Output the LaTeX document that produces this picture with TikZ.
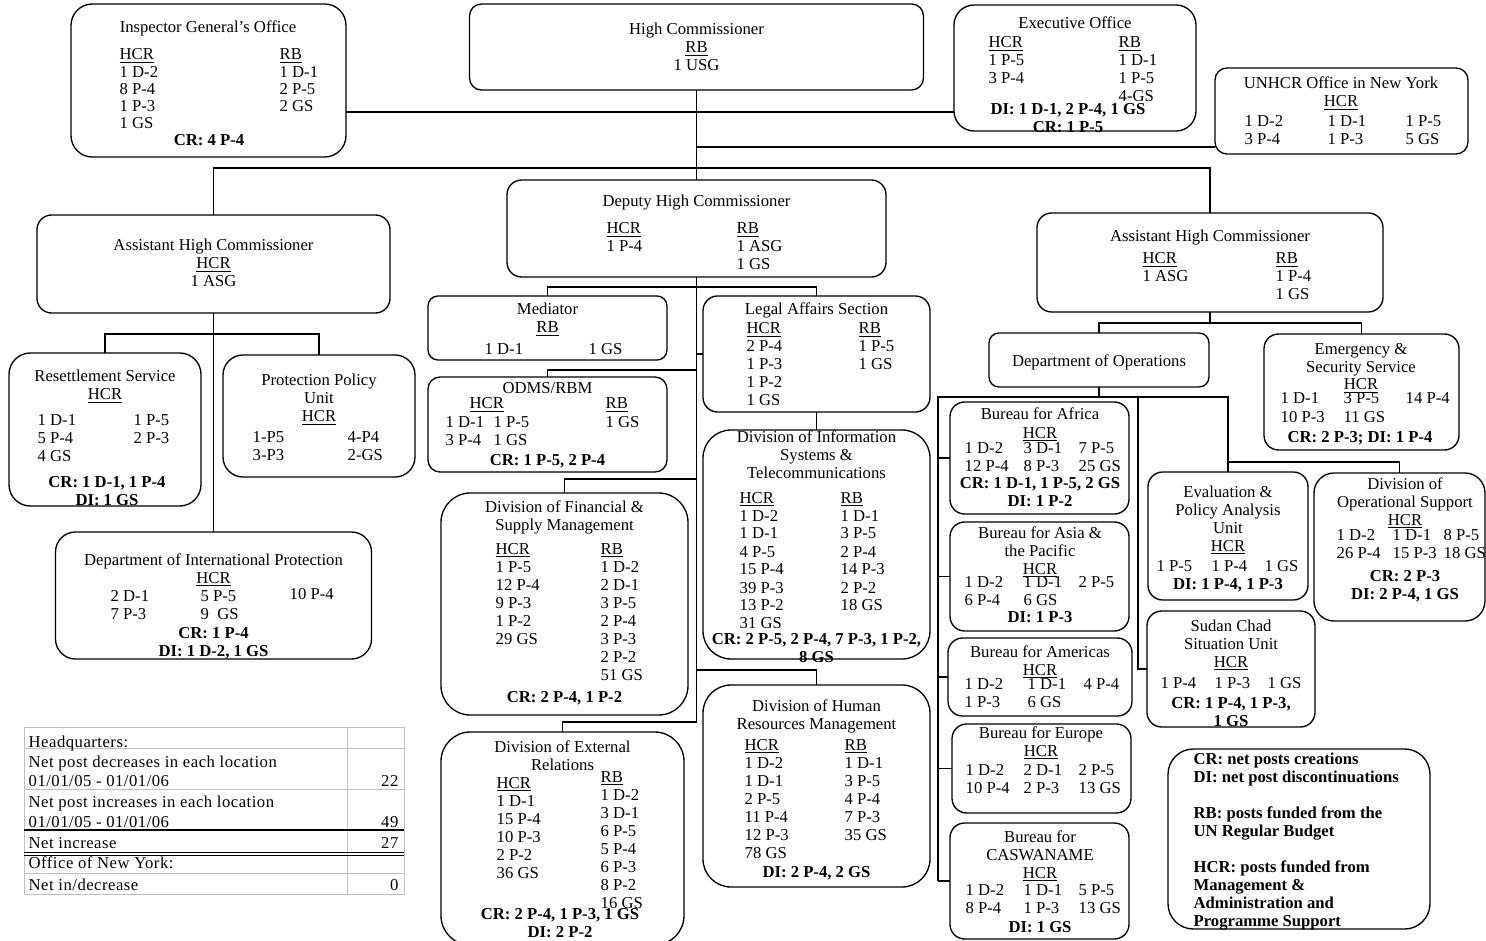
\documentclass[tikz,border=0pt]{standalone}
\usepackage{fontspec}
\setmainfont{Liberation Serif}
\definecolor{gridgray}{RGB}{192,192,192}
\newcommand{\stk}[1]{\begin{tabular}[t]{@{}l@{}}#1\end{tabular}}
\newcommand{\stc}[1]{\begin{tabular}[t]{@{}c@{}}#1\end{tabular}}
\newcommand{\hdr}[1]{\underline{#1}}
\AtBeginDocument{\fontsize{12.5}{13.5}\selectfont}
\tikzset{every picture/.style={line width=1pt}}
\tikzset{
  orgbox/.style={draw, inner sep=0pt, outer sep=0pt, rounded corners=#1},
  orgbox/.default=10pt,
  boxsize/.style 2 args={minimum width=#1*0.75pt, minimum height=#2*0.75pt},
  lbl/.style={inner sep=0pt, anchor=base},
  lcol/.style={inner sep=0pt, anchor=base west},
  boldtxt/.style={inner sep=0pt, anchor=base, font=\bfseries},
  tabtxt/.style={inner sep=0pt, anchor=base west, font=\addfontfeature{LetterSpace=3}},
  tabnum/.style={inner sep=0pt, anchor=base east, font=\addfontfeature{LetterSpace=3}},
}

\begin{document}
\begin{tikzpicture}[x=0.75pt,y=0.75pt,yscale=-1,xscale=1]
        \useasboundingbox (0,0) rectangle (1486,941);

        % boxes
        \node[orgbox=16pt, boxsize={275}{153}] (ig) at (208.5,80.5) {};
        \node[orgbox=9pt, boxsize={454}{86}] (hc) at (696.5,47) {};
        \node[orgbox=15pt, boxsize={242}{126}] (exec) at (1075,68) {};
        \node[orgbox=9pt, boxsize={253}{86}] (ny) at (1341.5,111) {};
        \node[orgbox=11pt, boxsize={379}{97}] (dhc) at (696.5,228.5) {};
        \node[orgbox=11pt, boxsize={353}{98}] (ahcl) at (213.5,264) {};
        \node[orgbox=11pt, boxsize={346}{99}] (ahcr) at (1210,262.5) {};
        \node[orgbox=7.5pt, boxsize={239}{64}] (med) at (547.5,328) {};
        \node[orgbox=11pt, boxsize={227}{116}] (legal) at (816.5,354) {};
        \node[orgbox=9pt, boxsize={239}{95}] (odms) at (547.5,424.5) {};
        \node[orgbox=21pt, boxsize={227}{229}] (dist) at (816.5,544.5) {};
        \node[orgbox=22pt, boxsize={247}{222}] (fin) at (564.5,604) {};
        \node[orgbox=21pt, boxsize={227}{202}] (hr) at (816.5,786) {};
        \node[orgbox=22pt, boxsize={243}{213}] (ext) at (562.5,838.5) {};
        \node[orgbox=16pt, boxsize={192}{153}] (rs) at (105,429.5) {};
        \node[orgbox=15pt, boxsize={192}{122}] (ppu) at (319,416) {};
        \node[orgbox=15pt, boxsize={316}{127}] (dip) at (213.5,595.5) {};
        \node[orgbox=7.5pt, boxsize={220}{54}] (ops) at (1099,360) {};
        \node[orgbox=11pt, boxsize={195}{116}] (emg) at (1361.5,392) {};
        \node[orgbox=11pt, boxsize={179}{112}] (bafr) at (1039.5,458) {};
        \node[orgbox=11pt, boxsize={179}{109}] (basia) at (1039.5,576.5) {};
        \node[orgbox=11pt, boxsize={184}{78}] (bam) at (1040,677) {};
        \node[orgbox=11pt, boxsize={179}{89}] (beur) at (1041.5,768.5) {};
        \node[orgbox=11pt, boxsize={179}{116}] (bcas) at (1039.5,881) {};
        \node[orgbox=11pt, boxsize={160}{128}] (eval) at (1228,536) {};
        \node[orgbox=15pt, boxsize={171}{148}] (dos) at (1399.5,547) {};
        \node[orgbox=11pt, boxsize={168}{116}] (sudan) at (1231,669) {};
        \node[orgbox=19pt, boxsize={262}{180}] (legend) at (1299,839) {};

        % connectors
        \coordinate (j1) at (696.5,112);
        \coordinate (j2) at (696.5,147);
        \coordinate (j3) at (696.5,168);
        \coordinate (j4) at (213.5,334);
        \coordinate (j5) at (696.5,287);
        \coordinate (j6) at (696.5,370);
        \coordinate (j7) at (696.5,479);
        \coordinate (j8) at (696.5,670);
        \coordinate (j10) at (696.5,722);
        \coordinate (j11) at (1210,323);
        \coordinate (j12) at (1099,397);
        \coordinate (j13) at (1228,462);
        \coordinate (lv) at (938,397);
        \coordinate (mv) at (1138,397);
        \coordinate (rv) at (1228,397);
        \draw (ig.east |- j1) -- (j1 -| exec.west);
        \draw (j2) -- (j2 -| ny.west);
        \draw (hc.south) -- (dhc.north);
        \draw (ahcl.north) |- (j3) -| (ahcr.north);
        \draw (ahcl.south) -- (dip.north);
        \draw (rs.north) |- (j4) -| (ppu.north);
        \draw (dhc.south) -- (j10) -| (ext.north);
        \draw (med.north) |- (j5) -| (legal.north);
        \draw (legal.west) -- (legal.west -| j5);
        \draw (j6) -| (odms.north);
        \draw (legal.south) -- (dist.north);
        \draw (j7) -| (fin.north);
        \draw (j8) -| (hr.north);
        \draw (ahcr.south) -- (j11);
        \draw (ops.north) |- (j11) -| (emg.north);
        \draw (ops.south) -- (j12);
        \draw (lv |- bcas.west) -- (lv) -- (rv) -- (eval.north);
        \draw (mv) |- (sudan.west);
        \draw (j13) -| (dos.north);
        \draw (bafr.west -| lv) -- (bafr.west);
        \draw (basia.west -| lv) -- (basia.west);
        \draw (bam.west -| lv) -- (bam.west);
        \draw (beur.west -| lv) -- (beur.west);
        \draw (bcas.west -| lv) -- (bcas.west);

        % Inspector General's Office
        \node[lbl] (ig-t) at (208,33) {Inspector General's Office};
        \node[lcol] (ig-h) at (119,60) {\renewcommand{\arraystretch}{0.95}\stk{\hdr{HCR}\\1 D-2\\8 P-4\\1 P-3\\1 GS}};
        \node[lcol] (ig-r) at (279,60) {\renewcommand{\arraystretch}{0.95}\stk{\hdr{RB}\\1 D-1\\2 P-5\\2 GS}};
        \node[boldtxt] (ig-f) at (209,146) {CR: 4 P-4};

        % High Commissioner
        \node[lbl] (hc-t) at (696.5,35) {\stc{High Commissioner\\\hdr{RB}\\1 USG}};

        % Executive Office
        \node[lbl] (exec-t) at (1075,29) {Executive Office};
        \node[lcol] (exec-h) at (988,48) {\stk{\hdr{HCR}\\1 P-5\\3 P-4}};
        \node[lcol] (exec-r) at (1118,48) {\stk{\hdr{RB}\\1 D-1\\1 P-5\\4-GS}};
        \node[boldtxt] (exec-f) at (1068,115) {\stc{DI: 1 D-1, 2 P-4, 1 GS\\CR: 1 P-5}};

        % New York
        \node[lbl] (ny-t) at (1341,89) {\stc{UNHCR Office in New York\\\hdr{HCR}}};
        \node[lcol] (ny-a) at (1244,127) {\stk{1 D-2\\3 P-4}};
        \node[lcol] (ny-b) at (1327,127) {\stk{1 D-1\\1 P-3}};
        \node[lcol] (ny-c) at (1405,127) {\stk{1 P-5\\5 GS}};

        % Deputy High Commissioner
        \node[lbl] (dhc-t) at (696.5,207) {Deputy High Commissioner};
        \node[lcol] (dhc-h) at (606,234) {\stk{\hdr{HCR}\\1 P-4}};
        \node[lcol] (dhc-r) at (736,234) {\stk{\hdr{RB}\\1 ASG\\1 GS}};

        % Assistant High Commissioners
        \node[lbl] (ahcl-t) at (213.5,251) {\stc{Assistant High Commissioner\\\hdr{HCR}\\1 ASG}};
        \node[lbl] (ahcr-t) at (1210,242) {Assistant High Commissioner};
        \node[lcol] (ahcr-h) at (1142,264) {\stk{\hdr{HCR}\\1 ASG}};
        \node[lcol] (ahcr-r) at (1275,264) {\stk{\hdr{RB}\\1 P-4\\1 GS}};

        % Mediator
        \node[lbl] (med-t) at (547.5,315) {\stc{Mediator\\\hdr{RB}}};
        \node[lcol] (med-a) at (484,355) {1 D-1};
        \node[lcol] (med-b) at (588,355) {1 GS};

        % Legal Affairs Section
        \node[lbl] (legal-t) at (816.5,315) {Legal Affairs Section};
        \node[lcol] (legal-h) at (746,334) {\stk{\hdr{HCR}\\2 P-4\\1 P-3\\1 P-2\\1 GS}};
        \node[lcol] (legal-r) at (858,334) {\stk{\hdr{RB}\\1 P-5\\1 GS}};

        % ODMS/RBM
        \node[lbl] (odms-t) at (547.5,394) {ODMS/RBM};
        \node[lcol] (odms-h) at (469,409) {\hdr{HCR}};
        \node[lcol] (odms-a) at (445,427) {\stk{1 D-1\\3 P-4}};
        \node[lcol] (odms-b) at (493,427) {\stk{1 P-5\\1 GS}};
        \node[lcol] (odms-r) at (605,409) {\stk{\hdr{RB}\\1 GS}};
        \node[boldtxt] (odms-f) at (547.5,465) {CR: 1 P-5, 2 P-4};

        % Information Systems
        \node[lbl] (dist-t) at (816.5,442) {\stc{Division of Information\\Systems \&\\Telecommunications}};
        \node[lcol] (dist-h) at (739,503) {\stk{\hdr{HCR}\\1 D-2\\1 D-1\\4 P-5\\15 P-4\\39 P-3\\13 P-2\\31 GS}};
        \node[lcol] (dist-r) at (840,503) {\stk{\hdr{RB}\\1 D-1\\3 P-5\\2 P-4\\14 P-3\\2 P-2\\18 GS}};
        \node[boldtxt] (dist-f) at (816.5,644) {\stc{CR: 2 P-5, 2 P-4, 7 P-3, 1 P-2,\\8 GS}};

        % Financial & Supply Management
        \node[lbl] (fin-t) at (564.5,512) {\stc{Division of Financial \&\\Supply Management}};
        \node[lcol] (fin-h) at (495,554) {\stk{\hdr{HCR}\\1 P-5\\12 P-4\\9 P-3\\1 P-2\\29 GS}};
        \node[lcol] (fin-r) at (600,554) {\stk{\hdr{RB}\\1 D-2\\2 D-1\\3 P-5\\2 P-4\\3 P-3\\2 P-2\\51 GS}};
        \node[boldtxt] (fin-f) at (564.5,702) {CR: 2 P-4, 1 P-2};

        % Human Resources Management
        \node[lbl] (hr-t) at (816.5,711) {\stc{Division of Human\\Resources Management}};
        \node[lcol] (hr-h) at (744,750) {\stk{\hdr{HCR}\\1 D-2\\1 D-1\\2 P-5\\11 P-4\\12 P-3\\78 GS}};
        \node[lcol] (hr-r) at (844,750) {\stk{\hdr{RB}\\1 D-1\\3 P-5\\4 P-4\\7 P-3\\35 GS}};
        \node[boldtxt] (hr-f) at (816.5,877) {DI: 2 P-4, 2 GS};

        % External Relations
        \node[lbl] (ext-t) at (562.5,752) {\stc{Division of External\\Relations}};
        \node[lcol] (ext-h) at (496,788) {\stk{\hdr{HCR}\\1 D-1\\15 P-4\\10 P-3\\2 P-2\\36 GS}};
        \node[lcol] (ext-r) at (600,782) {\stk{\hdr{RB}\\1 D-2\\3 D-1\\6 P-5\\5 P-4\\6 P-3\\8 P-2\\16 GS}};
        \node[boldtxt] (ext-f) at (560,919) {\stc{CR: 2 P-4, 1 P-3, 1 GS\\DI: 2 P-2}};

        % Resettlement Service
        \node[lbl] (rs-t) at (105,382) {\stc{Resettlement Service\\\hdr{HCR}}};
        \node[lcol] (rs-a) at (37,426) {\stk{1 D-1\\5 P-4\\4 GS}};
        \node[lcol] (rs-b) at (133,426) {\stk{1 P-5\\2 P-3}};
        \node[boldtxt] (rs-f) at (107,487) {\stc{CR: 1 D-1, 1 P-4\\DI: 1 GS}};

        % Protection Policy Unit
        \node[lbl] (ppu-t) at (319,386) {\stc{Protection Policy\\Unit\\\hdr{HCR}}};
        \node[lcol] (ppu-a) at (252,442) {\stk{1-P5\\3-P3}};
        \node[lcol] (ppu-b) at (347,442) {\stk{4-P4\\2-GS}};

        % Department of International Protection
        \node[lbl] (dip-t) at (213.5,565) {\stc{Department of International Protection\\\hdr{HCR}}};
        \node[lcol] (dip-a) at (110,601) {\stk{2 D-1\\7 P-3}};
        \node[lcol] (dip-b) at (200,601) {\stk{5 P-5\\9~~GS}};
        \node[lcol] (dip-c) at (289,599) {10 P-4};
        \node[boldtxt] (dip-f) at (213.5,638) {\stc{CR: 1 P-4\\DI: 1 D-2, 1 GS}};

        % Department of Operations
        \node[lbl] (ops-t) at (1099,367) {Department of Operations};

        % Emergency & Security Service
        \node[lbl] (emg-t) at (1361,354) {\stc{Emergency \&\\Security Service\\\hdr{HCR}}};
        \node[lcol] (emg-a) at (1280,404) {\stk{1 D-1\\10 P-3}};
        \node[lcol] (emg-b) at (1343,404) {\stk{3 P-5\\11 GS}};
        \node[lcol] (emg-c) at (1405,403) {14 P-4};
        \node[boldtxt] (emg-f) at (1360,442) {CR: 2 P-3; DI: 1 P-4};

        % Bureaux
        \node[lbl] (bafr-t) at (1040,420) {\stc{Bureau for Africa\\\hdr{HCR}}};
        \node[lcol] (bafr-a) at (964,453) {\stk{1 D-2\\12 P-4}};
        \node[lcol] (bafr-b) at (1023,453) {\stk{3 D-1\\8 P-3}};
        \node[lcol] (bafr-c) at (1078,453) {\stk{7 P-5\\25 GS}};
        \node[boldtxt] (bafr-f) at (1040,488) {\stc{CR: 1 D-1, 1 P-5, 2 GS\\DI: 1 P-2}};

        \node[lbl] (basia-t) at (1040,538) {\stc{Bureau for Asia \&\\the Pacific\\\hdr{HCR}}};
        \node[lcol] (basia-a) at (964,587) {\stk{1 D-2\\6 P-4}};
        \node[lcol] (basia-b) at (1023,587) {\stk{1 D-1\\6 GS}};
        \node[lcol] (basia-c) at (1078,587) {2 P-5};
        \node[boldtxt] (basia-f) at (1040,622) {DI: 1 P-3};

        \node[lbl] (bam-t) at (1040,657) {\stc{Bureau for Americas\\\hdr{HCR}}};
        \node[lcol] (bam-a) at (964,689) {\stk{1 D-2\\1 P-3}};
        \node[lcol] (bam-b) at (1027,689) {\stk{1 D-1\\6 GS}};
        \node[lcol] (bam-c) at (1083,689) {4 P-4};

        \node[lbl] (beur-t) at (1041,738) {\stc{Bureau for Europe\\\hdr{HCR}}};
        \node[lcol] (beur-a) at (965,775) {\stk{1 D-2\\10 P-4}};
        \node[lcol] (beur-b) at (1023,775) {\stk{2 D-1\\2 P-3}};
        \node[lcol] (beur-c) at (1078,775) {\stk{2 P-5\\13 GS}};

        \node[lbl] (bcas-t) at (1040,842) {\stc{Bureau for\\CASWANAME\\\hdr{HCR}}};
        \node[lcol] (bcas-a) at (965,895) {\stk{1 D-2\\8 P-4}};
        \node[lcol] (bcas-b) at (1023,895) {\stk{1 D-1\\1 P-3}};
        \node[lcol] (bcas-c) at (1078,895) {\stk{5 P-5\\13 GS}};
        \node[boldtxt] (bcas-f) at (1040,932) {DI: 1 GS};

        % Evaluation & Policy Analysis Unit
        \node[lbl] (eval-t) at (1228,497) {\stc{Evaluation \&\\Policy Analysis\\Unit\\\hdr{HCR}}};
        \node[lcol] (eval-a) at (1156,571) {1 P-5};
        \node[lcol] (eval-b) at (1211,571) {1 P-4};
        \node[lcol] (eval-c) at (1264,571) {1 GS};
        \node[boldtxt] (eval-f) at (1228,589) {DI: 1 P-4, 1 P-3};

        % Division of Operational Support
        \node[lbl] (dos-t) at (1405,489) {\stc{Division of\\Operational Support\\\hdr{HCR}}};
        \node[lcol] (dos-a) at (1336,540) {\stk{1 D-2\\26 P-4}};
        \node[lcol] (dos-b) at (1392,540) {\stk{1 D-1\\15 P-3}};
        \node[lcol] (dos-c) at (1443,540) {\stk{8 P-5\\18 GS}};
        \node[boldtxt] (dos-f) at (1405,581) {\stc{CR: 2 P-3\\DI: 2 P-4, 1 GS}};

        % Sudan Chad Situation Unit
        \node[lbl] (sudan-t) at (1231,631) {\stc{Sudan Chad\\Situation Unit\\\hdr{HCR}}};
        \node[lcol] (sudan-a) at (1160,688) {1 P-4};
        \node[lcol] (sudan-b) at (1214,688) {1 P-3};
        \node[lcol] (sudan-c) at (1267,688) {1 GS};
        \node[boldtxt] (sudan-f) at (1231,708) {\stc{CR: 1 P-4, 1 P-3,\\1 GS}};

        % legend
        \node[lcol, font=\bfseries] (legend-t) at (1193,764) {\stk{CR: net posts creations\\DI: net post discontinuations\\ \\RB: posts funded from the\\UN Regular Budget\\ \\HCR: posts funded from\\Management \&\\Administration and\\Programme Support}};

        % summary table
        \draw[gridgray, line width=0.75pt] (24,727) rectangle (404,894);
        \draw[gridgray, line width=0.75pt] (347,727) -- (347,894);
        \draw[gridgray, line width=0.75pt] (24,748) -- (404,748);
        \draw[gridgray, line width=0.75pt] (24,789) -- (404,789);
        \draw[gridgray, line width=0.75pt] (24,873) -- (404,873);
        \draw[line width=1.5pt] (24,830) -- (404,830);
        \draw[line width=0.75pt] (24,852) -- (404,852);
        \draw[line width=0.75pt] (24,855) -- (404,855);
        \node[tabtxt] (tab1) at (28,747) {Headquarters:};
        \node[tabtxt] (tab2) at (28,767) {Net post decreases in each location};
        \node[tabtxt] (tab3) at (28,786) {01/01/05 - 01/01/06};
        \node[tabtxt] (tab4) at (28,807) {Net post increases in each location};
        \node[tabtxt] (tab5) at (28,827) {01/01/05 - 01/01/06};
        \node[tabtxt] (tab6) at (28,848) {Net increase};
        \node[tabtxt] (tab7) at (28,868) {Office of New York:};
        \node[tabtxt] (tab8) at (28,890) {Net in/decrease};
        \node[tabnum] (num1) at (399,786) {22};
        \node[tabnum] (num2) at (399,827) {49};
        \node[tabnum] (num3) at (399,848) {27};
        \node[tabnum] (num4) at (399,890) {0};

    \end{tikzpicture}
\end{document}
